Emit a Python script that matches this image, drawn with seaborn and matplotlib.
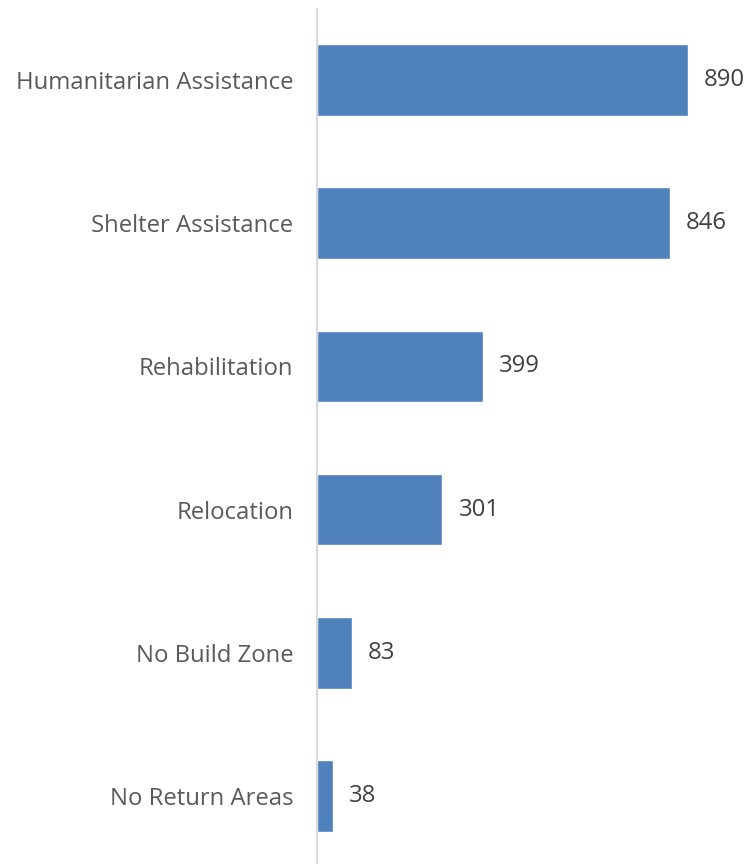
import pandas as pd
import matplotlib.pyplot as plt
import seaborn as sns

# category counts
categories = ['Humanitarian Assistance', 'Shelter Assistance', 'Rehabilitation',
              'Relocation', 'No Build Zone', 'No Return Areas']
counts = [890, 846, 399, 301, 83, 38]

df = pd.DataFrame({'category': categories, 'count': counts})

sns.set_style('white')
plt.rcParams['font.family'] = ['Open Sans', 'DejaVu Sans']

fig = plt.figure(figsize=(7.53, 8.64), dpi=100)
ax = fig.add_axes([317 / 753, -3.5 / 864, 436 / 753, 859 / 864])

sns.barplot(data=df, x='count', y='category', color='#4F81BD', saturation=1,
            width=0.5, ax=ax)

ax.set_xlim(0, 1046)
ax.set_ylim(5.5, -0.5)
ax.set_xlabel('')
ax.set_ylabel('')
ax.set_xticks([])
ax.tick_params(axis='y', length=0, pad=17, labelsize=17.2, labelcolor='#595959')

for s in ['top', 'right', 'bottom']:
    ax.spines[s].set_visible(False)
ax.spines['left'].set_color('#D9D9D9')
ax.spines['left'].set_linewidth(1.5)

# value labels
for i, v in enumerate(counts):
    ax.annotate(str(v), xy=(v, i), xytext=(11.5, 0), textcoords='offset points',
                va='center', ha='left', fontsize=17.2, color='#404040')

fig.savefig('out.png', dpi=100)
